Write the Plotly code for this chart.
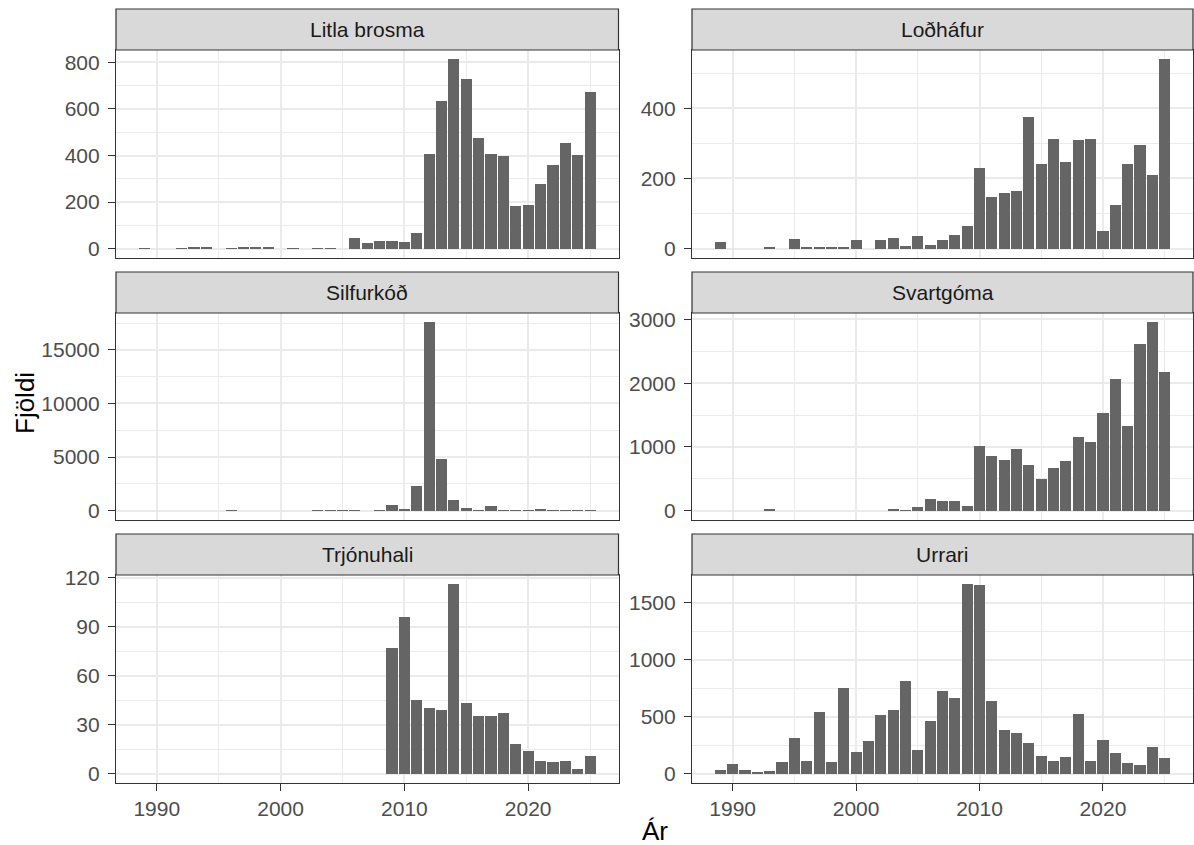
import plotly.graph_objects as go

# ---- data: yearly counts per species ----
ar_litla_brosma = [1989, 1992, 1993, 1994, 1996, 1997, 1998, 1999, 2001, 2003, 2004,
                   2006, 2007, 2008, 2009, 2010, 2011, 2012, 2013, 2014, 2015, 2016,
                   2017, 2018, 2019, 2020, 2021, 2022, 2023, 2024, 2025]
fjoldi_litla_brosma = [2, 2, 8, 3, 2, 6, 3, 3, 2, 2, 2,
                       46, 23, 33, 34, 30, 66, 406, 634, 813, 731, 474,
                       406, 396, 183, 189, 277, 360, 454, 403, 671]

ar_lodhafur = [1989, 1993, 1995, 1996, 1997, 1998, 1999, 2000, 2002, 2003, 2004, 2005,
               2006, 2007, 2008, 2009, 2010, 2011, 2012, 2013, 2014, 2015, 2016, 2017,
               2018, 2019, 2020, 2021, 2022, 2023, 2024, 2025]
fjoldi_lodhafur = [18, 5, 27, 2, 2, 2, 3, 23, 25, 31, 7, 36,
                   11, 23, 40, 65, 229, 146, 159, 164, 374, 241, 312, 246,
                   309, 313, 51, 125, 241, 295, 210, 539]

ar_silfurkod = [1996, 2003, 2004, 2005, 2006, 2008, 2009, 2010, 2011, 2012, 2013, 2014,
                2015, 2016, 2017, 2018, 2019, 2020, 2021, 2022, 2023, 2024, 2025]
fjoldi_silfurkod = [40, 40, 40, 40, 40, 40, 495, 90, 2320, 17570, 4790, 990,
                    250, 40, 430, 40, 40, 40, 185, 40, 40, 40, 40]

ar_svartgoma = [1993, 2003, 2004, 2005, 2006, 2007, 2008, 2009, 2010, 2011, 2012, 2013,
                2014, 2015, 2016, 2017, 2018, 2019, 2020, 2021, 2022, 2023, 2024, 2025]
fjoldi_svartgoma = [10, 14, 8, 57, 177, 146, 156, 73, 1019, 863, 801, 962,
                    712, 489, 676, 785, 1149, 1071, 1539, 2070, 1326, 2610, 2954, 2174]

ar_trjonuhali = [2009, 2010, 2011, 2012, 2013, 2014, 2015, 2016, 2017, 2018, 2019,
                 2020, 2021, 2022, 2023, 2024, 2025]
fjoldi_trjonuhali = [77, 96, 45, 40, 39, 116, 43, 35, 35, 37, 18,
                     14, 8, 7, 8, 3, 11]

ar_urrari = list(range(1989, 2026))
fjoldi_urrari = [29, 85, 35, 12, 20, 105, 316, 111, 545, 100, 750,
                 188, 287, 516, 554, 817, 205, 466, 727, 662, 1661,
                 1652, 639, 384, 355, 267, 152, 111, 146, 521, 111,
                 299, 182, 97, 79, 231, 135]

tegundir = ["Litla brosma", "Loðháfur", "Silfurkóð", "Svartgóma", "Trjónuhali", "Urrari"]
ar_listar = [ar_litla_brosma, ar_lodhafur, ar_silfurkod, ar_svartgoma, ar_trjonuhali, ar_urrari]
fjoldi_listar = [fjoldi_litla_brosma, fjoldi_lodhafur, fjoldi_silfurkod,
                 fjoldi_svartgoma, fjoldi_trjonuhali, fjoldi_urrari]

# y-axis breaks (major, minor) per panel
y_major = [200, 200, 5000, 1000, 30, 500]
y_minor = [100, 100, 2500, 500, 15, 250]

x_major = [1990, 2000, 2010, 2020]
x_minor = [1995, 2005, 2015, 2025]

# ---- layout geometry (paper fractions) ----
W, H = 1194, 845
ML, MR, MT, MB = 116, 1, 9, 62
PW = W - ML - MR
PH = H - MT - MB


def px_x(x):
    return (x - ML) / PW


def px_y(y):
    return (H - MB - y) / PH


col_dom = [(px_x(116), px_x(618.5)), (px_x(692), 1.0)]
# (strip top, panel top, panel bottom) in pixels for each row
row_px = [(9, 50, 258), (272, 313, 520), (534, 575, 783)]

FONT = "Liberation Sans, Arial, sans-serif"
GRID = "#EBEBEB"
DARK = "#333333"
BAR = "#656565"

bar_width = 0.9
x_lo = min(min(a) for a in ar_listar) - bar_width / 2
x_hi = max(max(a) for a in ar_listar) + bar_width / 2
x_pad = 0.05 * (x_hi - x_lo)
x_range = [x_lo - x_pad, x_hi + x_pad]

fig = go.Figure()
shapes = []
annotations = []

for i, (nafn, ar, fj) in enumerate(zip(tegundir, ar_listar, fjoldi_listar)):
    r, c = divmod(i, 2)
    idx = "" if i == 0 else str(i + 1)
    xa, ya = "x" + idx, "y" + idx
    fig.add_trace(go.Bar(
        x=ar, y=fj, width=bar_width, xaxis=xa, yaxis=ya,
        marker=dict(color=BAR, line=dict(width=0)),
        showlegend=False, hoverinfo="x+y",
    ))

    s_top, p_top, p_bot = row_px[r]
    x0, x1 = col_dom[c]
    bottom_row = r == 2

    ymax = max(fj)
    fig.layout["xaxis" + idx] = dict(
        domain=[x0, x1], anchor=ya, range=x_range,
        tickmode="array", tickvals=x_major, ticktext=[str(v) for v in x_major],
        showticklabels=bottom_row, ticks="outside" if bottom_row else "",
        ticklen=7, tickwidth=1.2, tickcolor=DARK,
        tickfont=dict(family=FONT, size=21, color="#4D4D4D"),
        showgrid=True, gridcolor=GRID, gridwidth=1.7,
        minor=dict(tickmode="array", tickvals=x_minor, showgrid=True,
                   gridcolor=GRID, gridwidth=0.9, ticks=""),
        showline=True, linecolor=DARK, linewidth=1.2, mirror=True,
        zeroline=False, fixedrange=True,
    )
    fig.layout["yaxis" + idx] = dict(
        domain=[px_y(p_bot), px_y(p_top)], anchor=xa,
        range=[-0.05 * ymax, 1.05 * ymax],
        tickmode="linear", tick0=0, dtick=y_major[i], tickformat="d",
        ticks="outside", ticklen=7, tickwidth=1.2, tickcolor=DARK,
        ticklabelstandoff=4,
        tickfont=dict(family=FONT, size=21, color="#4D4D4D"),
        showgrid=True, gridcolor=GRID, gridwidth=1.7,
        minor=dict(tickmode="linear", tick0=0, dtick=y_minor[i], showgrid=True,
                   gridcolor=GRID, gridwidth=0.9, ticks=""),
        showline=True, linecolor=DARK, linewidth=1.2, mirror=True,
        zeroline=False, fixedrange=True,
    )

    # facet strip
    shapes.append(dict(
        type="rect", xref="paper", yref="paper",
        x0=x0, x1=x1, y0=px_y(p_top), y1=px_y(s_top),
        fillcolor="#D9D9D9", line=dict(color=DARK, width=1.2), layer="above",
    ))
    annotations.append(dict(
        text=nafn, xref="paper", yref="paper",
        x=(x0 + x1) / 2, y=(px_y(p_top) + px_y(s_top)) / 2,
        xanchor="center", yanchor="middle", showarrow=False,
        font=dict(family=FONT, size=21, color="#1A1A1A"),
    ))

annotations.append(dict(
    text="Ár", xref="paper", yref="paper", x=px_x(655), y=px_y(831),
    xanchor="center", yanchor="middle", showarrow=False, borderpad=0,
    font=dict(family=FONT, size=26, color="black"),
))
annotations.append(dict(
    text="Fjöldi", xref="paper", yref="paper", x=px_x(25), y=px_y(403),
    xanchor="center", yanchor="middle", showarrow=False, textangle=-90,
    font=dict(family=FONT, size=26, color="black"),
))

fig.update_layout(
    width=W, height=H,
    margin=dict(l=ML, r=MR, t=MT, b=MB, pad=0),
    paper_bgcolor="white", plot_bgcolor="white",
    bargap=0, shapes=shapes, annotations=annotations,
    font=dict(family=FONT),
)

fig.write_html("out.html", config={"displayModeBar": False})
